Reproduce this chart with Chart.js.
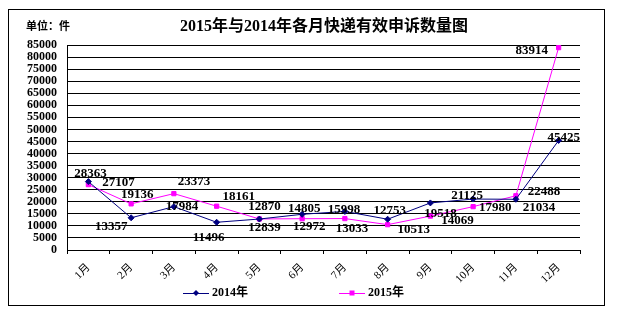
<!DOCTYPE html>
<html>
<head>
<meta charset="utf-8">
<script src="https://cdn.jsdelivr.net/npm/chart.js@4.4.0/dist/chart.umd.min.js"></script>
<style>
  html, body { margin: 0; padding: 0; background: #fff; }
  #wrap { position: relative; width: 620px; height: 314px; }
</style>
</head>
<body>
<div id="wrap"><canvas id="chart" width="620" height="314"></canvas></div>
<script>
const months = ["1月", "2月", "3月", "4月", "5月", "6月", "7月", "8月", "9月", "10月", "11月", "12月"];
const values2014 = [28363, 13357, 17984, 11496, 12839, 14805, 15998, 12753, 19518, 21125, 21034, 45425];
const values2015 = [27107, 19136, 23373, 18161, 12870, 12972, 13033, 10513, 14069, 17980, 22488, 83914];
const yMax = 85000;
const yStep = 5000;

// label offsets from the point (dx, dy) to mimic the hand-placed labels
const off2014 = [[2,-8],[-20,9],[8,0],[-8,15],[5,9],[2,-6],[-1,-2],[2,-9],[10,11],[-6,-3],[23,8],[5,-3]];
const off2015 = [[30,-2],[6,-9],[20,-12],[22,-10],[5,-12],[7,8],[7,10],[26,5],[27,5],[22,1],[28,-4],[-27,3]];

const serif = "'Liberation Serif', 'Noto Sans CJK SC', serif";

const decorPlugin = {
  id: "decor",
  beforeDraw(chart) {
    const c = chart.ctx;
    c.save();
    c.fillStyle = "#fff";
    c.fillRect(0, 0, chart.width, chart.height);
    c.strokeStyle = "#000";
    c.lineWidth = 1;
    c.strokeRect(8.5, 9.5, 596, 296);
    c.restore();
  },
  afterDraw(chart) {
    const c = chart.ctx;
    c.save();
    c.fillStyle = "#000";
    c.textBaseline = "middle";
    c.font = "bold 11px " + serif;
    c.textAlign = "left";
    c.fillText("单位：件", 26, 27);
    c.font = "bold 16px " + serif;
    c.textAlign = "center";
    c.fillText("2015年与2014年各月快递有效申诉数量图", 324, 27);

    // data labels
    c.font = "bold 13px " + serif;
    const offs = [off2014, off2015];
    chart.data.datasets.forEach((ds, di) => {
      const meta = chart.getDatasetMeta(di);
      meta.data.forEach((pt, i) => {
        c.fillText(String(ds.data[i]), pt.x + offs[di][i][0], pt.y + offs[di][i][1]);
      });
    });

    // legend: line with marker
    const ly = 293;
    const items = [
      { x: 183, ds: chart.data.datasets[0], shape: "diamond" },
      { x: 339, ds: chart.data.datasets[1], shape: "square" }
    ];
    items.forEach(it => {
      c.strokeStyle = it.ds.borderColor;
      c.fillStyle = it.ds.borderColor;
      c.lineWidth = 1;
      c.beginPath();
      c.moveTo(it.x, ly + 0.5);
      c.lineTo(it.x + 26, ly + 0.5);
      c.stroke();
      const mx = it.x + 13;
      if (it.shape === "diamond") {
        c.beginPath();
        c.moveTo(mx, ly - 3); c.lineTo(mx + 3, ly); c.lineTo(mx, ly + 3); c.lineTo(mx - 3, ly);
        c.closePath(); c.fill();
      } else {
        c.fillRect(mx - 2.5, ly - 2.5, 5, 5);
      }
      c.fillStyle = "#000";
      c.font = "bold 12px " + serif;
      c.textAlign = "left";
      c.fillText(it.ds.label, it.x + 29, ly);
    });
    c.restore();
  }
};

new Chart(document.getElementById("chart"), {
  type: "line",
  data: {
    labels: months,
    datasets: [
      {
        label: "2014年",
        data: values2014,
        borderColor: "#000080",
        backgroundColor: "#000080",
        borderWidth: 1,
        pointStyle: "rectRot",
        pointRadius: 3,
        tension: 0
      },
      {
        label: "2015年",
        data: values2015,
        borderColor: "#FF00FF",
        backgroundColor: "#FF00FF",
        borderWidth: 1,
        pointStyle: "rect",
        pointRadius: 3,
        tension: 0
      }
    ]
  },
  options: {
    responsive: false,
    animation: false,
    layout: { padding: { left: 0, top: 45, right: 40, bottom: 24 } },
    plugins: {
      legend: { display: false },
      title: { display: false },
      tooltip: { enabled: false }
    },
    scales: {
      x: {
        offset: true,
        afterFit: s => { s.height = 40; },
        grid: { display: true, drawOnChartArea: false, drawTicks: true, tickLength: 4, offset: true, color: "#000" },
        border: { color: "#000", width: 1 },
        ticks: {
          color: "#000",
          font: { family: serif, size: 11 },
          maxRotation: 45,
          minRotation: 45,
          padding: 7
        }
      },
      y: {
        min: 0,
        max: yMax,
        afterFit: s => { s.width = 67; },
        grid: { color: "#000", drawTicks: false, lineWidth: 1 },
        border: { color: "#000", width: 1 },
        ticks: {
          stepSize: yStep,
          autoSkip: false,
          callback: v => String(v),
          color: "#000",
          padding: 10,
          font: { family: serif, size: 12, weight: "bold" }
        }
      }
    }
  },
  plugins: [decorPlugin]
});
</script>
</body>
</html>
